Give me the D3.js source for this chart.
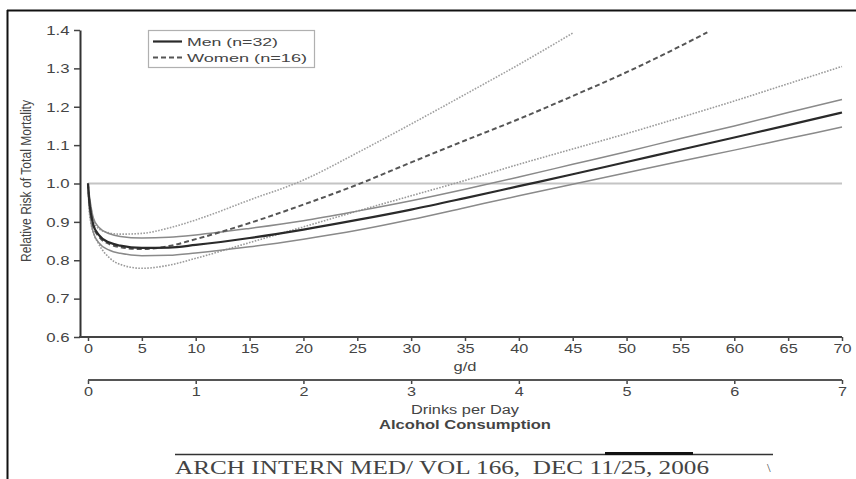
<!DOCTYPE html>
<html>
<head>
<meta charset="utf-8">
<script src="https://cdn.jsdelivr.net/npm/d3@7"></script>
<style>
  html, body { margin: 0; padding: 0; background: #fff; }
  svg { display: block; }
  text { font-family: "Liberation Sans", Arial, sans-serif; fill: #444; }
</style>
</head>
<body>
<svg id="chart" width="856" height="479"></svg>
<script>
// ---------------- DATA ----------------
const gd = [0, 0.1, 0.25, 0.5, 1, 2, 3, 5, 7.5, 10, 15, 20, 25, 30, 35, 40, 45, 50, 55, 60, 65, 70];
const menRR    = [1.0, 0.96, 0.925, 0.892, 0.866, 0.846, 0.838, 0.832, 0.833, 0.84, 0.858, 0.88, 0.905, 0.932, 0.962, 0.993, 1.024, 1.056, 1.088, 1.12, 1.152, 1.185];
const menUpper = [1.0, 0.975, 0.945, 0.91, 0.886, 0.869, 0.862, 0.858, 0.86, 0.866, 0.883, 0.903, 0.928, 0.955, 0.985, 1.017, 1.05, 1.083, 1.117, 1.15, 1.185, 1.219];
const menLower = [1.0, 0.945, 0.905, 0.872, 0.846, 0.826, 0.818, 0.812, 0.813, 0.819, 0.835, 0.855, 0.878, 0.906, 0.937, 0.968, 0.998, 1.028, 1.058, 1.087, 1.117, 1.147];

const gdWomenRR = [0, 0.1, 0.25, 0.5, 1, 2, 3, 5, 7.5, 10, 15, 20, 25, 30, 35, 40, 45, 50, 55, 57.5];
const womenRR    = [1.0, 0.962, 0.928, 0.888, 0.862, 0.842, 0.834, 0.829, 0.837, 0.855, 0.897, 0.945, 0.997, 1.055, 1.112, 1.168, 1.228, 1.29, 1.358, 1.394];
const gdWomenUpper = [0, 0.1, 0.25, 0.5, 1, 2, 3, 5, 7.5, 10, 15, 20, 25, 30, 35, 40, 45];
const womenUpper = [1.0, 0.968, 0.94, 0.905, 0.882, 0.871, 0.868, 0.87, 0.884, 0.905, 0.957, 1.009, 1.08, 1.155, 1.232, 1.31, 1.392];
const womenLower = [1.0, 0.935, 0.9, 0.872, 0.842, 0.806, 0.789, 0.779, 0.787, 0.805, 0.846, 0.887, 0.928, 0.968, 1.008, 1.05, 1.09, 1.13, 1.172, 1.215, 1.26, 1.305];

const gdTicks = [0, 5, 10, 15, 20, 25, 30, 35, 40, 45, 50, 55, 60, 65, 70];
const drinkTicks = [0, 1, 2, 3, 4, 5, 6, 7];
const rrTicks = [0.6, 0.7, 0.8, 0.9, 1.0, 1.1, 1.2, 1.3, 1.4];
const referenceRR = 1.0;

const legendLabels = ["Men (n=32)", "Women (n=16)"];
const yTitle = "Relative Risk of Total Mortality";
const xTitle = "g/d";
const x2Title = "Drinks per Day";
const mainTitle = "Alcohol Consumption";
const footerText = "ARCH INTERN MED/ VOL 166,  DEC 11/25, 2006";

// ---------------- LAYOUT ----------------
const svg = d3.select("#chart");
const x = d3.scaleLinear().domain([0, 70]).range([88, 842]);
const xDrinks = d3.scaleLinear().domain([0, 7]).range([88, 842]);
const y = d3.scaleLinear().domain([0.6, 1.4]).range([337, 30]);
const yAxisX = 80;
const drinksAxisY = 380;

// page border (scan edge)
svg.append("line").attr("x1", 7).attr("x2", 856).attr("y1", 10.5).attr("y2", 10.5)
  .attr("stroke", "#111").attr("stroke-width", 2);
svg.append("line").attr("x1", 7.5).attr("x2", 7.5).attr("y1", 10).attr("y2", 479)
  .attr("stroke", "#111").attr("stroke-width", 2);

// clip
svg.append("clipPath").attr("id", "plotclip").append("rect")
  .attr("x", x(0) - 2).attr("y", y(1.4) - 1).attr("width", x(70) - x(0) + 4).attr("height", y(0.6) - y(1.4) + 1);

// reference line
svg.append("line")
  .attr("x1", x(0)).attr("x2", x(70)).attr("y1", y(referenceRR)).attr("y2", y(referenceRR))
  .attr("stroke", "#c4c4c4").attr("stroke-width", 2);

// curves
function drawCurve(xs, ys, style) {
  const pts = xs.map((v, i) => [v, ys[i]]);
  const line = d3.line().x(d => x(d[0])).y(d => y(d[1])).curve(d3.curveMonotoneX);
  svg.append("path").datum(pts)
    .attr("clip-path", "url(#plotclip)")
    .attr("d", line)
    .attr("fill", "none")
    .attr("stroke", style.color)
    .attr("stroke-width", style.width)
    .attr("stroke-dasharray", style.dash || null)
    .attr("stroke-linejoin", "round");
}
drawCurve(gd, womenLower, { color: "#9a9a9a", width: 1.6, dash: "1.6,1.4" });
drawCurve(gdWomenUpper, womenUpper, { color: "#a0a0a0", width: 1.6, dash: "1.6,1.4" });
drawCurve(gd, menUpper, { color: "#8a8a8a", width: 1.5 });
drawCurve(gd, menLower, { color: "#8a8a8a", width: 1.5 });
drawCurve(gdWomenRR, womenRR, { color: "#555", width: 2, dash: "5,3" });
drawCurve(gd, menRR, { color: "#2a2a2a", width: 2.2 });

// ---- Y axis ----
const yAxis = d3.axisLeft(y).tickValues(rrTicks).tickFormat(d3.format(".1f")).tickSize(6).tickSizeOuter(0);
const gy = svg.append("g").attr("transform", `translate(${yAxisX},0)`).call(yAxis);
gy.select(".domain").attr("stroke", "#333").attr("stroke-width", 2);
gy.selectAll(".tick line").attr("stroke", "#444").attr("stroke-width", 1.5);
gy.selectAll(".tick text")
  .attr("x", -7.5).attr("dy", "0.36em")
  .attr("transform", "scale(1.4,1)")
  .style("font-size", "12px").style("font-family", "Liberation Sans, Arial, sans-serif").attr("fill", "#555");

// ---- X axis (g/d) ----
const xAxis = d3.axisBottom(x).tickValues(gdTicks).tickFormat(d3.format("d")).tickSize(4).tickSizeOuter(0);
const gx = svg.append("g").attr("transform", `translate(0,${y(0.6)})`).call(xAxis);
gx.select(".domain").remove();
svg.append("line").attr("x1", yAxisX - 1).attr("x2", x(70)).attr("y1", y(0.6)).attr("y2", y(0.6))
  .attr("stroke", "#444").attr("stroke-width", 2);
gx.selectAll(".tick line").attr("stroke", "#444").attr("stroke-width", 1.5);
gx.selectAll(".tick text")
  .attr("transform", "scale(1.3,1)")
  .style("font-size", "12.5px").style("font-family", "Liberation Sans, Arial, sans-serif").attr("fill", "#555");

// ---- second X axis (drinks) ----
const x2Axis = d3.axisBottom(xDrinks).tickValues(drinkTicks).tickFormat(d3.format("d")).tickSize(4).tickSizeOuter(0);
const gx2 = svg.append("g").attr("transform", `translate(0,${drinksAxisY})`).call(x2Axis);
gx2.select(".domain").remove();
svg.append("line").attr("x1", xDrinks(0)).attr("x2", xDrinks(7)).attr("y1", drinksAxisY).attr("y2", drinksAxisY)
  .attr("stroke", "#555").attr("stroke-width", 2);
gx2.selectAll(".tick line").attr("stroke", "#444").attr("stroke-width", 1.5);
gx2.selectAll(".tick text")
  .attr("transform", "scale(1.3,1)")
  .style("font-size", "12.5px").style("font-family", "Liberation Sans, Arial, sans-serif").attr("fill", "#555");

// ---- titles ----
const cx = (x(0) + x(70)) / 2;
svg.append("text").attr("x", cx).attr("y", 371).attr("text-anchor", "middle")
  .attr("textLength", 23).attr("lengthAdjust", "spacingAndGlyphs")
  .style("font-size", "12px").text(xTitle);
svg.append("text").attr("x", cx).attr("y", 414).attr("text-anchor", "middle")
  .attr("textLength", 108).attr("lengthAdjust", "spacingAndGlyphs")
  .style("font-size", "12px").text(x2Title);
svg.append("text").attr("x", cx).attr("y", 429).attr("text-anchor", "middle")
  .attr("textLength", 172).attr("lengthAdjust", "spacingAndGlyphs")
  .style("font-size", "12.5px").style("font-weight", "bold").attr("fill", "#4a4a4a").text(mainTitle);

svg.append("text")
  .attr("transform", "translate(31,181) scale(1.35,1) rotate(-90)")
  .attr("text-anchor", "middle")
  .attr("textLength", 162).attr("lengthAdjust", "spacingAndGlyphs")
  .style("font-size", "11px").attr("fill", "#555").text(yTitle);

// ---- legend ----
const lg = svg.append("g");
lg.append("rect").attr("x", 148.5).attr("y", 30.5).attr("width", 166).attr("height", 37)
  .attr("fill", "#fff").attr("stroke", "#b0b0b0").attr("stroke-width", 1.2);
const legendStyles = [
  { color: "#2a2a2a", width: 2.2, dash: null, len: 91 },
  { color: "#555", width: 2, dash: "5,3", len: 120 }
];
legendLabels.forEach((lab, i) => {
  const ly = 41.5 + i * 16;
  lg.append("line").attr("x1", 153).attr("x2", 182).attr("y1", ly).attr("y2", ly)
    .attr("stroke", legendStyles[i].color).attr("stroke-width", legendStyles[i].width)
    .attr("stroke-dasharray", legendStyles[i].dash);
  lg.append("text").attr("x", 187).attr("y", ly + 4.2)
    .attr("textLength", legendStyles[i].len).attr("lengthAdjust", "spacingAndGlyphs")
    .style("font-size", "11.5px").attr("fill", "#444").text(lab);
});

// ---- journal footer ----
svg.append("line").attr("x1", 175).attr("x2", 773).attr("y1", 454.5).attr("y2", 454.5)
  .attr("stroke", "#333").attr("stroke-width", 1.5);
svg.append("line").attr("x1", 605).attr("x2", 693).attr("y1", 453.5).attr("y2", 453.5)
  .attr("stroke", "#111").attr("stroke-width", 3);
svg.append("text").attr("x", 175).attr("y", 474)
  .attr("textLength", 534).attr("lengthAdjust", "spacingAndGlyphs")
  .style("white-space", "pre")
  .style("font-family", "Liberation Serif, 'Times New Roman', serif").style("font-size", "19px")
  .attr("fill", "#333").text(footerText);
svg.append("text").attr("x", 767).attr("y", 472)
  .style("font-family", "Liberation Serif, serif").style("font-size", "13px")
  .attr("fill", "#444").text("\\");
</script>
</body>
</html>
